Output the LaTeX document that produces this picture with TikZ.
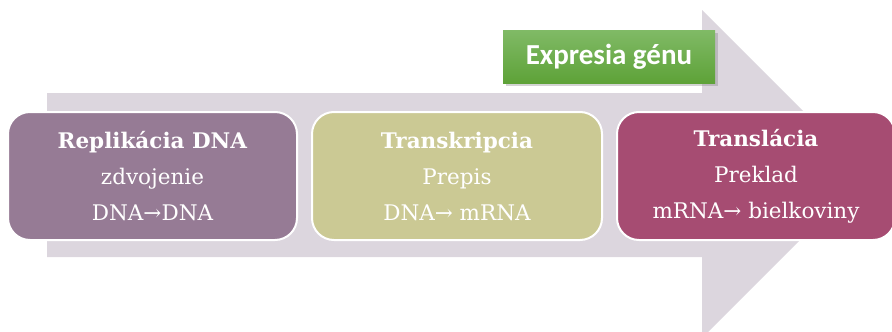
\documentclass[tikz,border=0pt]{standalone}
\usepackage{fontspec}
\setmainfont{DejaVu Serif}
\newfontfamily\carlito{Carlito}
\usetikzlibrary{shadows}
\definecolor{arrowgray}{HTML}{DCD6DE}
\definecolor{boxone}{HTML}{967B95}
\definecolor{boxtwo}{HTML}{CBC994}
\definecolor{boxthree}{HTML}{A64C72}
\definecolor{greentop}{HTML}{80BA66}
\definecolor{greenbot}{HTML}{5EA238}
\tikzset{
  stagebox/.style={draw=white, line width=2pt, rounded corners=22pt, text=white,
    align=center, inner sep=0pt, minimum height=128pt,
    font=\fontsize{21.5}{36}\selectfont},
  labelbox/.style={top color=greentop, bottom color=greenbot, text=white,
    inner sep=0pt, minimum width=212pt, minimum height=53pt,
    drop shadow={shadow xshift=3pt, shadow yshift=-3pt, opacity=0.35},
    font=\carlito\bfseries\fontsize{29}{32}\selectfont}
}
\begin{document}
\begin{tikzpicture}[x=1pt,y=-1pt]
\useasboundingbox (0,0) rectangle (892,332);
\clip (0,0) rectangle (892,332);
\fill[arrowgray] (47,93) -- (702,93) -- (702,10) -- (866,174) -- (702,338) -- (702,257) -- (47,257) -- cycle;
\node[stagebox, fill=boxone, minimum width=289pt] (rep) at (152.5,176)
  {\textbf{Replikácia DNA}\\zdvojenie\\DNA→DNA};
\node[stagebox, fill=boxtwo, minimum width=290pt] (tra) at (457,176)
  {\textbf{Transkripcia}\\Prepis\\DNA→ mRNA};
\node[stagebox, fill=boxthree, minimum width=278pt] (trl) at (756,176)
  {\textbf{Translácia}\\Preklad\\mRNA→ bielkoviny};
\node[labelbox] (expr) at (609,56.5) {Expresia génu};
\end{tikzpicture}
\end{document}
